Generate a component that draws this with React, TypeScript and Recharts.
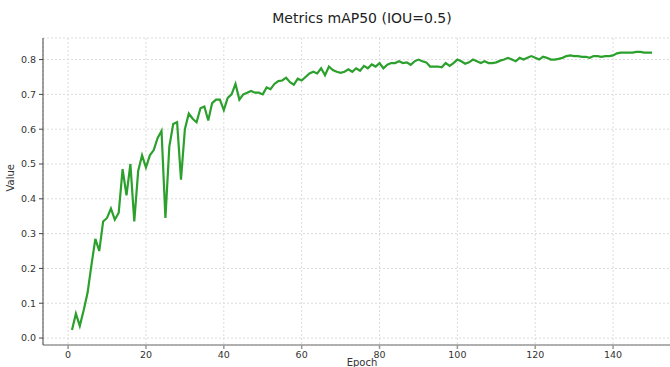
import React from "react";
import {
  LineChart,
  Line,
  XAxis,
  YAxis,
  CartesianGrid,
} from "recharts";

// mAP50 per epoch (1..150)
const epochs: number[] = Array.from({ length: 150 }, (_, i) => i + 1);
const map50: number[] = [
  0.023, 0.07, 0.035, 0.08, 0.13, 0.21, 0.285, 0.25, 0.335, 0.345,
  0.372, 0.34, 0.36, 0.485, 0.41, 0.5, 0.335, 0.48, 0.525, 0.49,
  0.525, 0.54, 0.575, 0.595, 0.345, 0.55, 0.615, 0.62, 0.455, 0.6,
  0.645, 0.63, 0.62, 0.66, 0.665, 0.625, 0.675, 0.685, 0.685, 0.655,
  0.69, 0.7, 0.73, 0.685, 0.7, 0.705, 0.71, 0.705, 0.705, 0.7,
  0.72, 0.715, 0.73, 0.738, 0.74, 0.748, 0.735, 0.728, 0.745, 0.74,
  0.75, 0.76, 0.765, 0.76, 0.775, 0.755, 0.78, 0.77, 0.765, 0.762,
  0.765, 0.772, 0.765, 0.775, 0.768, 0.782, 0.775, 0.786, 0.78, 0.79,
  0.775, 0.785, 0.79, 0.79, 0.795, 0.79, 0.792, 0.785, 0.795, 0.8,
  0.795, 0.792, 0.78, 0.78, 0.78, 0.778, 0.79, 0.782, 0.79, 0.8,
  0.795, 0.788, 0.792, 0.8, 0.795, 0.79, 0.795, 0.79, 0.79, 0.792,
  0.797, 0.8, 0.805, 0.8, 0.795, 0.805, 0.8, 0.805, 0.81, 0.805,
  0.8, 0.808, 0.805, 0.8, 0.8, 0.802, 0.805, 0.81, 0.812, 0.81,
  0.81, 0.808, 0.808, 0.805, 0.81, 0.81, 0.808, 0.81, 0.81, 0.812,
  0.818, 0.82, 0.82, 0.82, 0.82, 0.822, 0.822, 0.82, 0.82, 0.82,
];
const xTicks = [0, 20, 40, 60, 80, 100, 120, 140];
const yTicks = [0, 0.1, 0.2, 0.3, 0.4, 0.5, 0.6, 0.7, 0.8];

const data = epochs.map((e, i) => ({ epoch: e, value: map50[i] }));

const font = "'DejaVu Sans', sans-serif";

export default function App() {
  return (
    <div
      style={{
        position: "absolute",
        left: 0,
        top: 0,
        width: 670,
        height: 367,
        overflow: "hidden",
        background: "#fff",
        fontFamily: font,
      }}
    >
      <div
        style={{
          position: "absolute",
          top: 10,
          left: 0,
          width: 724,
          textAlign: "center",
          fontSize: 14,
          color: "#222",
        }}
      >
        Metrics mAP50 (IOU=0.5)
      </div>
      <LineChart
        width={700}
        height={367}
        data={data}
        margin={{ top: 38, right: 19, left: 0, bottom: 0 }}
      >
        <CartesianGrid stroke="#dcdcdc" strokeDasharray="2 2" />
        <XAxis
          dataKey="epoch"
          type="number"
          domain={[-6.45, 157.45]}
          ticks={xTicks}
          allowDataOverflow
          height={22}
          tickSize={4}
          tickMargin={2}
          stroke="#999"
          strokeWidth={1.5}
          tick={{ fill: "#333", fontSize: 9.5, fontFamily: font }}
          label={{
            value: "Epoch",
            position: "insideBottom",
            offset: 1,
            fill: "#333",
            fontSize: 10,
            fontFamily: font,
          }}
        />
        <XAxis
          xAxisId="top"
          orientation="top"
          dataKey="epoch"
          type="number"
          domain={[-6.45, 157.45]}
          height={0}
          tick={false}
          tickLine={false}
          stroke="#aaa"
        />
        <YAxis
          type="number"
          domain={[-0.02, 0.862]}
          ticks={yTicks}
          allowDataOverflow
          width={43}
          tickSize={4}
          tickMargin={3}
          stroke="#444"
          tickFormatter={(v: number) => v.toFixed(1)}
          tick={{ fill: "#333", fontSize: 9.5, fontFamily: font }}
          label={{
            value: "Value",
            angle: -90,
            position: "insideLeft",
            offset: 10,
            fill: "#333",
            fontSize: 10,
            fontFamily: font,
          }}
        />
        <Line
          dataKey="value"
          stroke="#2ca02c"
          strokeWidth={2.2}
          dot={false}
          isAnimationActive={false}
        />
      </LineChart>
    </div>
  );
}
